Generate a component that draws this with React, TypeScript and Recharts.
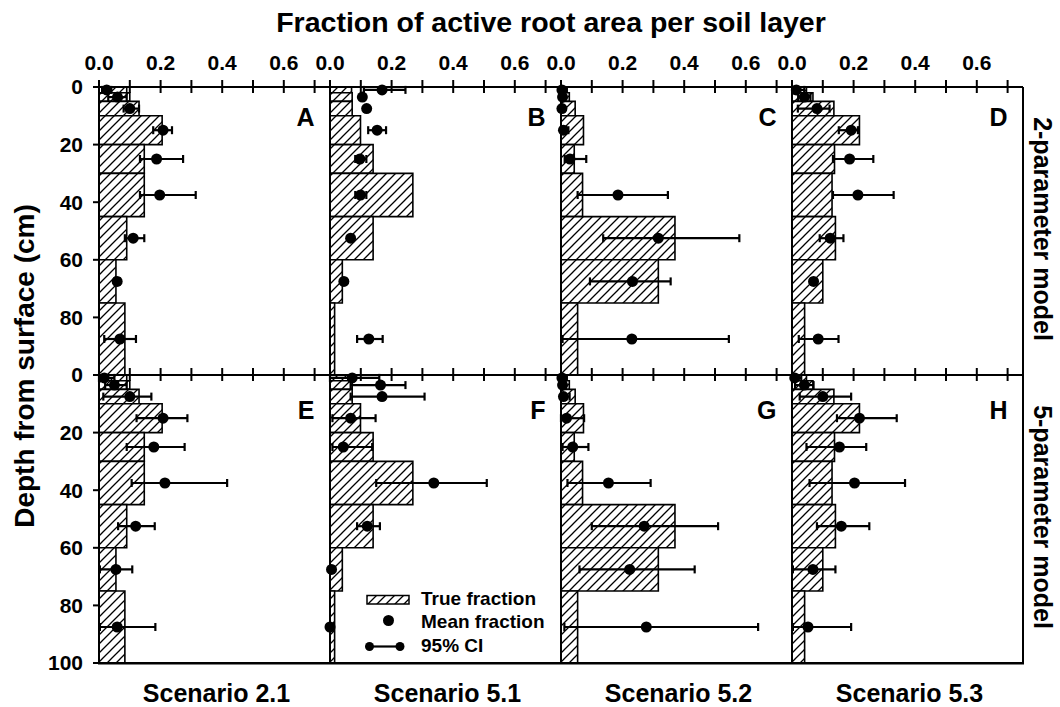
import React from "react";
import {
  ComposedChart,
  XAxis,
  YAxis,
  Scatter,
  ErrorBar,
  ReferenceArea,
  ReferenceLine,
} from "recharts";

const FONT = '"Liberation Sans", Arial, Helvetica, sans-serif';

// soil layers (cm)
const layerTop = [0, 2, 5, 10, 20, 30, 45, 60, 75];
const layerBottom = [2, 5, 10, 20, 30, 45, 60, 75, 100];
const layerMid = [1, 3.5, 7.5, 15, 25, 37.5, 52.5, 67.5, 87.5];

const scenarios = ["Scenario 2.1", "Scenario 5.1", "Scenario 5.2", "Scenario 5.3"];
const models = ["2-parameter model", "5-parameter model"];
const letters = [
  ["A", "B", "C", "D"],
  ["E", "F", "G", "H"],
];

const xTicks = [0, 0.1, 0.2, 0.3, 0.4, 0.5, 0.6, 0.7];
const yTicks = [0, 20, 40, 60, 80, 100];

// true fraction per scenario
const true21 = [0.09, 0.1, 0.13, 0.205, 0.147, 0.147, 0.09, 0.055, 0.084];
const true51 = [0.07, 0.072, 0.072, 0.099, 0.14, 0.269, 0.14, 0.04, 0.015];
const true52 = [0.02, 0.027, 0.046, 0.073, 0.043, 0.07, 0.37, 0.316, 0.054];
const true53 = [0.047, 0.068, 0.136, 0.219, 0.138, 0.13, 0.141, 0.1, 0.041];

// 2-parameter model: mean and 95% CI
const meanA = [0.025, 0.06, 0.1, 0.208, 0.187, 0.197, 0.111, 0.059, 0.068];
const loA = [0.01, 0.03, 0.08, 0.176, 0.133, 0.133, 0.084, 0.05, 0.017];
const hiA = [0.04, 0.09, 0.13, 0.237, 0.273, 0.314, 0.147, 0.068, 0.12];

const meanB = [0.169, 0.105, 0.119, 0.153, 0.097, 0.099, 0.067, 0.045, 0.126];
const loB = [0.11, 0.1, 0.114, 0.124, 0.082, 0.082, 0.062, 0.04, 0.088];
const hiB = [0.245, 0.11, 0.124, 0.182, 0.118, 0.118, 0.072, 0.05, 0.171];

const meanC = [0.003, 0.005, 0.003, 0.008, 0.029, 0.185, 0.316, 0.232, 0.23];
const loC = [0.0, 0.0, 0.0, 0.0, 0.012, 0.054, 0.137, 0.094, 0.005];
const hiC = [0.01, 0.012, 0.01, 0.024, 0.082, 0.347, 0.579, 0.356, 0.545];

const meanD = [0.014, 0.04, 0.081, 0.192, 0.187, 0.214, 0.124, 0.07, 0.085];
const loD = [0.005, 0.02, 0.019, 0.152, 0.133, 0.133, 0.09, 0.062, 0.022];
const hiD = [0.04, 0.06, 0.122, 0.214, 0.264, 0.33, 0.167, 0.078, 0.151];

// 5-parameter model
const meanE = [0.017, 0.05, 0.1, 0.208, 0.178, 0.214, 0.119, 0.055, 0.059];
const loE = [0.0, 0.02, 0.014, 0.122, 0.09, 0.106, 0.062, 0.003, 0.003];
const hiE = [0.05, 0.09, 0.17, 0.287, 0.278, 0.416, 0.181, 0.108, 0.183];

const meanF = [0.072, 0.164, 0.169, 0.067, 0.043, 0.337, 0.121, 0.005, 0.0];
const loF = [0.0, 0.067, 0.067, 0.008, 0.008, 0.15, 0.088, 0.0, 0.0];
const hiF = [0.16, 0.245, 0.307, 0.148, 0.137, 0.509, 0.162, 0.01, 0.002];

const meanG = [0.003, 0.005, 0.008, 0.018, 0.038, 0.154, 0.27, 0.223, 0.277];
const loG = [0.0, 0.0, 0.0, 0.0, 0.005, 0.021, 0.1, 0.06, 0.011];
const hiG = [0.012, 0.015, 0.028, 0.075, 0.089, 0.291, 0.51, 0.434, 0.64];

const meanH = [0.009, 0.04, 0.1, 0.219, 0.154, 0.203, 0.16, 0.068, 0.052];
const loH = [0.0, 0.01, 0.025, 0.146, 0.047, 0.057, 0.081, 0.003, 0.003];
const hiH = [0.03, 0.07, 0.192, 0.34, 0.241, 0.367, 0.251, 0.141, 0.192];

const truths = [true21, true51, true52, true53];
const means = [
  [meanA, meanB, meanC, meanD],
  [meanE, meanF, meanG, meanH],
];
const lows = [
  [loA, loB, loC, loD],
  [loE, loF, loG, loH],
];
const highs = [
  [hiA, hiB, hiC, hiD],
  [hiE, hiF, hiG, hiH],
];

// layout
const PLOT_LEFT = 99;
const PLOT_W = 231;
const PLOT_H = 288;
const ROW_TOP = [87, 375];
const YW = 60;
const XH = 40;
const BOTTOM = 16;

const Hatch = ({ id }: { id: string }) => (
  <pattern id={id} patternUnits="userSpaceOnUse" width={9} height={9}>
    <rect width={9} height={9} fill="#fff" />
    <path d="M-1,1 L1,-1 M0,9 L9,0 M8,10 L10,8" stroke="#000" strokeWidth={1.3} />
  </pattern>
);

const TopTick = (props: any) => {
  const { x, y, payload, showLabel } = props;
  const v = payload.value;
  const major = Math.round(v * 10) % 2 === 0;
  return (
    <g>
      <line x1={x} x2={x} y1={y - 7} y2={y + 6} stroke="#000" strokeWidth={2} />
      {showLabel && major && (
        <text
          x={x}
          y={y - 17}
          textAnchor="middle"
          fontFamily={FONT}
          fontWeight="bold"
          fontSize={21}
          fill="#000"
        >
          {v.toFixed(1)}
        </text>
      )}
    </g>
  );
};

const Dot = (props: any) => <circle cx={props.cx} cy={props.cy} r={5.5} fill="#000" />;

function Panel({ row, col }: { row: number; col: number }) {
  const truth = truths[col];
  const mean = means[row][col];
  const lo = lows[row][col];
  const hi = highs[row][col];
  const pts = layerMid.map((d, i) => ({
    x: mean[i],
    y: d,
    err: [mean[i] - lo[i], hi[i] - mean[i]],
  }));
  const pid = `hatch-${row}-${col}`;
  return (
    <div
      style={{
        position: "absolute",
        left: PLOT_LEFT + col * PLOT_W - YW,
        top: ROW_TOP[row] - XH,
      }}
    >
      <ComposedChart
        width={YW + PLOT_W + 3}
        height={XH + PLOT_H + BOTTOM}
        margin={{ top: 0, right: 3, bottom: BOTTOM, left: 0 }}
      >
        <defs>
          <Hatch id={pid} />
        </defs>
        <XAxis
          xAxisId={0}
          orientation="top"
          type="number"
          dataKey="x"
          domain={[0, 0.75]}
          ticks={xTicks}
          interval={0}
          height={XH}
          tickSize={0}
          tickMargin={0}
          tickLine={false}
          axisLine={{ stroke: "#000", strokeWidth: 2 }}
          tick={(p: any) => <TopTick {...p} showLabel={row === 0} />}
        />
        <YAxis
          yAxisId={0}
          type="number"
          dataKey="y"
          domain={[0, 100]}
          reversed
          ticks={yTicks}
          interval={0}
          width={YW}
          tickSize={6}
          tickMargin={10}
          tickLine={{ stroke: "#000", strokeWidth: 2 }}
          axisLine={{ stroke: "#000", strokeWidth: 2 }}
          tickFormatter={(v: number) => (row === 0 && v === 100 ? "" : String(v))}
          tick={
            col === 0
              ? { fontFamily: FONT, fontWeight: "bold", fontSize: 21, fill: "#000" }
              : false
          }
        />
        {truth.map((v, i) => (
          <ReferenceArea
            key={i}
            x1={0}
            x2={v}
            y1={layerTop[i]}
            y2={layerBottom[i]}
            fill={`url(#${pid})`}
            fillOpacity={1}
            stroke="#000"
            strokeWidth={1.6}
          />
        ))}
        <Scatter data={pts} isAnimationActive={false} shape={Dot}>
          <ErrorBar
            dataKey="err"
            direction="x"
            width={4}
            strokeWidth={2.2}
            stroke="#000"
            isAnimationActive={false}
          />
        </Scatter>
        {col === 3 && (
          <ReferenceLine x={0.75} stroke="#000" strokeWidth={2} ifOverflow="visible" />
        )}
      </ComposedChart>
    </div>
  );
}

const textStyle = { fontFamily: FONT, fontWeight: "bold" as const, fill: "#000" };

export default function App() {
  const cells: React.ReactNode[] = [];
  for (let r = 0; r < 2; r++) {
    for (let c = 0; c < 4; c++) {
      cells.push(<Panel key={`${r}-${c}`} row={r} col={c} />);
    }
  }
  const frameBottom = ROW_TOP[1] + PLOT_H;
  return (
    <div
      style={{
        position: "absolute",
        left: 0,
        top: 0,
        width: 1060,
        height: 707,
        background: "#fff",
      }}
    >
      {cells}
      <svg
        width={1060}
        height={707}
        style={{ position: "absolute", left: 0, top: 0, pointerEvents: "none" }}
      >
        <defs>
          <Hatch id="hatch-legend" />
        </defs>
        {/* bottom frame of the lower row */}
        <rect
          x={PLOT_LEFT - 1}
          y={frameBottom - 1}
          width={4 * PLOT_W + 2}
          height={2.5}
          fill="#000"
        />
        <text x={551} y={32} textAnchor="middle" fontSize={28.5} {...textStyle}>
          Fraction of active root area per soil layer
        </text>
        <text
          x={34}
          y={366}
          textAnchor="middle"
          fontSize={28}
          transform="rotate(-90 34 366)"
          {...textStyle}
        >
          Depth from surface (cm)
        </text>
        {models.map((m, r) => {
          const cy = ROW_TOP[r] + PLOT_H / 2 - 2;
          return (
            <text
              key={m}
              x={1034}
              y={cy}
              textAnchor="middle"
              fontSize={25}
              transform={`rotate(90 1034 ${cy})`}
              {...textStyle}
            >
              {m}
            </text>
          );
        })}
        {scenarios.map((s, c) => (
          <text
            key={s}
            x={PLOT_LEFT + c * PLOT_W + PLOT_W / 2 + 2}
            y={702}
            textAnchor="middle"
            fontSize={25}
            {...textStyle}
          >
            {s}
          </text>
        ))}
        {letters.map((rowL, r) =>
          rowL.map((l, c) => (
            <text
              key={l}
              x={PLOT_LEFT + (c + 1) * PLOT_W - 15.5}
              y={r === 0 ? 126 : 419}
              textAnchor="end"
              fontSize={25}
              {...textStyle}
            >
              {l}
            </text>
          ))
        )}
        {/* legend */}
        <rect x={367} y={595.5} width={42} height={8.5} fill="url(#hatch-legend)" stroke="#000" strokeWidth={1.5} />
        <text x={421} y={605} fontSize={19} {...textStyle}>
          True fraction
        </text>
        <circle cx={388.5} cy={620.5} r={5.5} fill="#000" />
        <text x={421} y={628} fontSize={19} {...textStyle}>
          Mean fraction
        </text>
        <line x1={369.5} x2={400} y1={646.5} y2={646.5} stroke="#000" strokeWidth={2.2} />
        <circle cx={369.5} cy={646.5} r={4.5} fill="#000" />
        <circle cx={400} cy={646.5} r={4.5} fill="#000" />
        <text x={421} y={652} fontSize={19} {...textStyle}>
          95% CI
        </text>
      </svg>
    </div>
  );
}
